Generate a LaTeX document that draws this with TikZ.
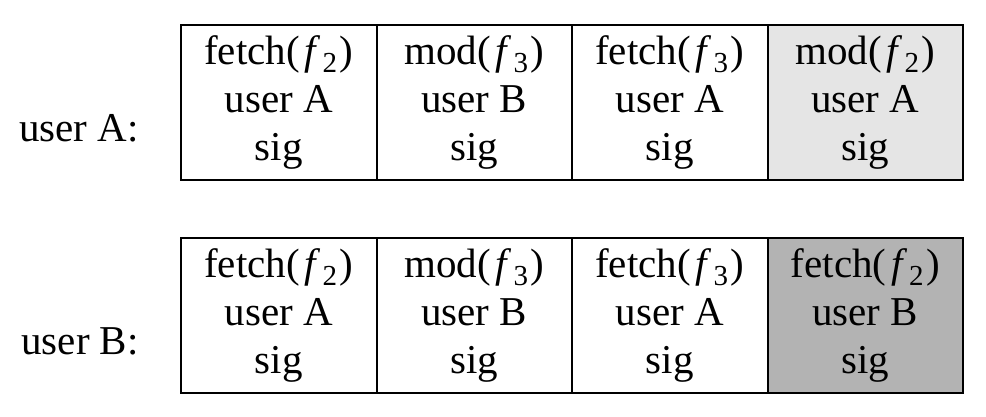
\documentclass[tikz,border=0pt]{standalone}
\usepackage{fontspec}
\setmainfont{Liberation Serif}
\definecolor{lightcell}{HTML}{E5E5E5}
\definecolor{darkcell}{HTML}{B3B3B3}
\newcommand{\ff}[1]{\kern0.12em\textit{f}\kern0.04em\raisebox{-0.2em}{\fontsize{29}{29}\selectfont #1}\kern0.06em}
\begin{document}
\begin{tikzpicture}[x=1pt,y=-1pt,
  cell/.style={draw=black,line width=2pt,minimum width=195.5pt,minimum height=155pt,inner sep=0pt,align=center,font=\fontsize{41}{48}\selectfont},
  rowlabel/.style={anchor=base,inner sep=0pt,font=\fontsize{41}{48}\selectfont}]
\useasboundingbox (0,0) rectangle (986,416);
% row A
\node[cell] (a1) at (278.75,102) {fetch(\ff{2})\\user A\\sig};
\node[cell] (a2) at (474.25,102) {mod(\ff{3})\\user B\\sig};
\node[cell] (a3) at (669.75,102) {fetch(\ff{3})\\user A\\sig};
\node[cell,fill=lightcell] (a4) at (865.25,102) {mod(\ff{2})\\user A\\sig};
\node[rowlabel] (la) at (79,141) {user A:};
% row B
\node[cell] (b1) at (278.75,315.5) {fetch(\ff{2})\\user A\\sig};
\node[cell] (b2) at (474.25,315.5) {mod(\ff{3})\\user B\\sig};
\node[cell] (b3) at (669.75,315.5) {fetch(\ff{3})\\user A\\sig};
\node[cell,fill=darkcell] (b4) at (865.25,315.5) {fetch(\ff{2})\\user B\\sig};
\node[rowlabel] (lb) at (80,354) {user B:};
\end{tikzpicture}
\end{document}
